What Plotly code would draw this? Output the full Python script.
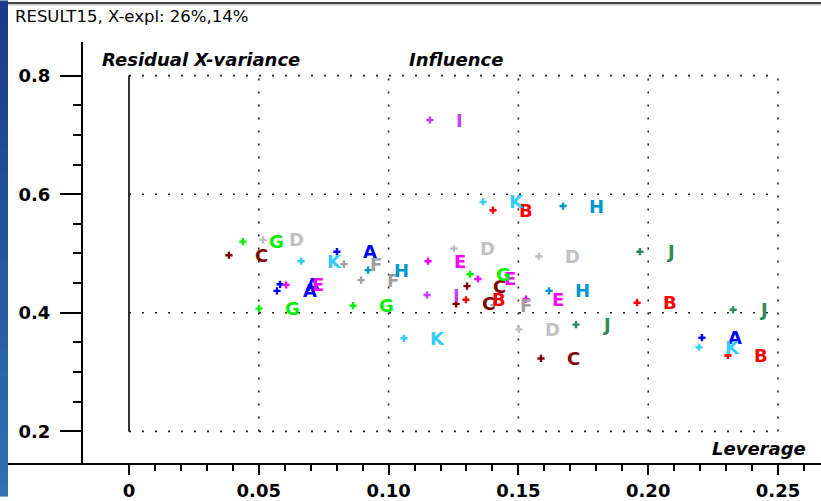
import plotly.graph_objects as go

# Influence plot: leverage vs. residual X-variance per sample
sample_labels = ["A", "A", "A", "A",
                 "B", "B", "B", "B",
                 "C", "C", "C", "C",
                 "D", "D", "D", "D",
                 "E", "E", "E", "E",
                 "F", "F", "F",
                 "G", "G", "G", "G",
                 "H", "H", "H",
                 "I", "I",
                 "J", "J", "J",
                 "K", "K", "K", "K"]
leverage = [0.0570, 0.0582, 0.0801, 0.2207,
            0.1402, 0.1298, 0.1957, 0.2307,
            0.0385, 0.1302, 0.1260, 0.1587,
            0.0516, 0.1252, 0.1579, 0.1502,
            0.0605, 0.1152, 0.1344, 0.1529,
            0.0828, 0.0894, 0.1406,
            0.0439, 0.0501, 0.0863, 0.1314,
            0.0921, 0.1672, 0.1618,
            0.1159, 0.1148,
            0.1968, 0.2327, 0.1722,
            0.1364, 0.0663, 0.1059, 0.2196]
resid_var = [0.437, 0.448, 0.503, 0.358,
             0.573, 0.422, 0.417, 0.328,
             0.497, 0.445, 0.415, 0.323,
             0.523, 0.508, 0.495, 0.372,
             0.447, 0.487, 0.457, 0.423,
             0.482, 0.455, 0.413,
             0.520, 0.407, 0.412, 0.465,
             0.472, 0.580, 0.437,
             0.725, 0.430,
             0.503, 0.405, 0.380,
             0.587, 0.487, 0.357, 0.342]

label_colors = {
    "A": "#0000ff", "B": "#ff0000", "C": "#800000", "D": "#c0c0c0",
    "E": "#ff00ff", "F": "#a0a0a0", "G": "#00f000", "H": "#0096d2",
    "I": "#c040ff", "J": "#2e8b57", "K": "#33ccff",
}

x_major = [0, 0.05, 0.10, 0.15, 0.20, 0.25]
x_major_text = ["0", "0.05", "0.10", "0.15", "0.20", "0.25"]
x_minor = [round(i * 0.01, 2) for i in range(0, 27) if i % 5]
y_major = [0.2, 0.4, 0.6, 0.8]
y_major_text = ["0.2", "0.4", "0.6", "0.8"]
y_minor = [0.25, 0.30, 0.35, 0.45, 0.50, 0.55, 0.65, 0.70, 0.75]

W, H = 821, 501
X0_PX, PX_PER_X = 129, 2596.0
Y_TOP_PX, Y_BOT_PX = 42, 468
PLOT_H = Y_BOT_PX - Y_TOP_PX
x_range = [-X0_PX / PX_PER_X, (W - X0_PX) / PX_PER_X]
y_range = [0.2 - (Y_BOT_PX - 436) / 600.0, 0.8 + (76 - Y_TOP_PX) / 600.0]


def px_x(px):
    """Horizontal pixel -> paper fraction (plot spans full width)."""
    return px / W


def px_y(py):
    """Vertical pixel from top -> paper fraction of the plot area."""
    return 1 - (py - Y_TOP_PX) / PLOT_H


tick_font = dict(family="DejaVu Sans", size=18, color="black", weight="bold")
label_font = dict(family="DejaVu Sans", size=18, color="black",
                  weight="bold", style="italic")

fig = go.Figure()

groups = list(dict.fromkeys(sample_labels))
for g in groups:
    idx = [i for i, s in enumerate(sample_labels) if s == g]
    fig.add_trace(go.Scatter(
        x=[leverage[i] for i in idx],
        y=[resid_var[i] for i in idx],
        mode="markers",
        marker=dict(symbol="cross", size=6, color=label_colors[g],
                    line=dict(width=0)),
        name=g,
        showlegend=False,
        hoverinfo="skip",
    ))

annotations = []
for s, lx, ry in zip(sample_labels, leverage, resid_var):
    annotations.append(dict(
        x=lx, y=ry, xref="x", yref="y", text=s, showarrow=False,
        xanchor="left", yanchor="middle", xshift=24, yshift=0,
        font=dict(family="DejaVu Sans", size=18, color=label_colors[s],
                  weight="bold"),
    ))

# axis captions
annotations += [
    dict(x=px_x(100), y=px_y(60), xref="paper", yref="paper",
         text="Residual X-variance", showarrow=False, xanchor="left",
         yanchor="middle", font=label_font),
    dict(x=px_x(407), y=px_y(60), xref="paper", yref="paper",
         text="Influence", showarrow=False, xanchor="left",
         yanchor="middle", font=label_font),
    dict(x=px_x(808), y=px_y(453), xref="paper", yref="paper",
         text="Leverage", showarrow=False, xanchor="right",
         yanchor="middle", font=label_font),
]

shapes = []
dot = dict(color="#222222", width=1.6, dash="2px,11px")
for yv in y_major:
    shapes.append(dict(type="line", xref="x", yref="y", x0=0, x1=0.25,
                       y0=yv, y1=yv, line=dot, layer="below"))
for xv in x_major[1:]:
    shapes.append(dict(type="line", xref="x", yref="y", x0=xv, x1=xv,
                       y0=0.2, y1=0.8, line=dot, layer="below"))
# solid zero-leverage line
shapes.append(dict(type="line", xref="x", yref="y", x0=0, x1=0,
                   y0=0.2, y1=0.8, line=dict(color="black", width=1.6)))

# window frame: gradient strip on the left and rule on top
n_band = 40
for i in range(n_band):
    t = i / (n_band - 1)
    r = int(0x1a + (0x2e - 0x1a) * t)
    gch = int(0x3a + (0x72 - 0x3a) * t)
    b = int(0x88 + (0xb4 - 0x88) * t)
    top_px = H * i / n_band
    bot_px = H * (i + 1) / n_band + 1
    shapes.append(dict(type="rect", xref="paper", yref="paper",
                       x0=px_x(0), x1=px_x(8),
                       y0=px_y(bot_px), y1=px_y(top_px),
                       fillcolor=f"rgb({r},{gch},{b})", line=dict(width=0),
                       layer="above"))
shapes.append(dict(type="line", xref="paper", yref="paper",
                   x0=px_x(8), x1=1, y0=px_y(2.5), y1=px_y(2.5),
                   line=dict(color="#444444", width=2)))
shapes.append(dict(type="line", xref="paper", yref="paper",
                   x0=px_x(8), x1=1, y0=px_y(4.5), y1=px_y(4.5),
                   line=dict(color="#b0b0b0", width=1)))

fig.update_layout(
    width=W, height=H,
    margin=dict(l=0, r=0, t=Y_TOP_PX, b=H - Y_BOT_PX),
    paper_bgcolor="white", plot_bgcolor="white",
    title=dict(text="RESULT15, X-expl: 26%,14%", x=15 / W, xanchor="left",
               y=1 - 16 / H, yanchor="middle",
               font=dict(family="DejaVu Sans", size=16.5, color="black")),
    xaxis=dict(range=x_range, showgrid=False, zeroline=False,
               showline=True, linecolor="black", linewidth=2,
               tickmode="array", tickvals=x_major, ticktext=x_major_text,
               ticks="outside", ticklen=10, tickwidth=2, tickcolor="black",
               tickfont=tick_font,
               minor=dict(tickmode="array", tickvals=x_minor, ticks="outside",
                          ticklen=6, tickwidth=2, tickcolor="black",
                          showgrid=False)),
    yaxis=dict(range=y_range, showgrid=False, zeroline=False,
               showline=True, linecolor="black", linewidth=2,
               anchor="free", position=82 / W,
               tickmode="array", tickvals=y_major, ticktext=y_major_text,
               ticks="outside", ticklen=21, tickwidth=2, tickcolor="black",
               tickfont=tick_font, ticklabelstandoff=6,
               minor=dict(tickmode="array", tickvals=y_minor, ticks="outside",
                          ticklen=8, tickwidth=2, tickcolor="black",
                          showgrid=False)),
    annotations=annotations,
    shapes=shapes,
)

fig.write_html("out.html")
